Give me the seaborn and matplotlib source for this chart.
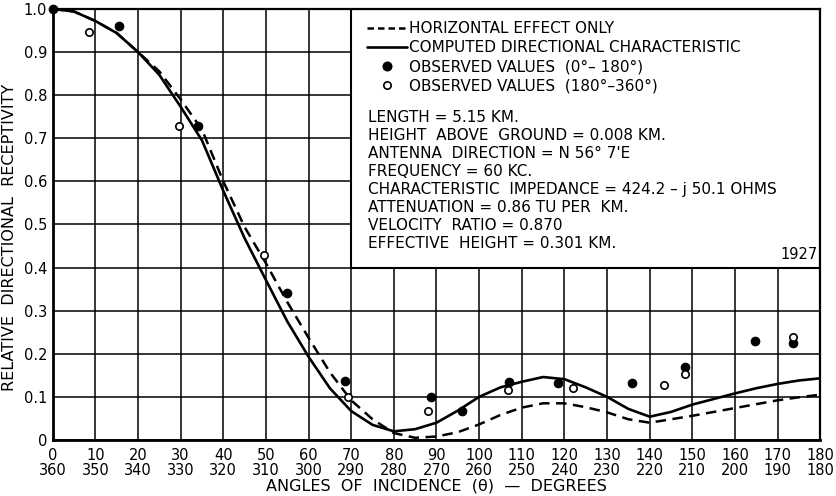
import numpy as np
import pandas as pd
import matplotlib
matplotlib.use("Agg")
import matplotlib.pyplot as plt
import seaborn as sns
from matplotlib.lines import Line2D
from matplotlib.patches import Rectangle

# ---- data ----
angle_deg = [0, 5, 10, 15, 20, 25, 30, 35, 40, 45, 50, 55, 60, 65, 70, 75, 80, 85, 90,
             95, 100, 105, 110, 115, 120, 125, 130, 135, 140, 145, 150, 155, 160, 165,
             170, 175, 180]
computed = [1.0, 0.994, 0.972, 0.944, 0.90, 0.847, 0.773, 0.695, 0.578, 0.468, 0.371,
            0.275, 0.193, 0.12, 0.067, 0.035, 0.02, 0.025, 0.04, 0.068, 0.1, 0.122,
            0.135, 0.146, 0.141, 0.122, 0.1, 0.072, 0.054, 0.065, 0.082, 0.095, 0.108,
            0.12, 0.13, 0.138, 0.143]
horizontal = [1.0, 0.994, 0.972, 0.944, 0.90, 0.855, 0.79, 0.72, 0.60, 0.494, 0.41,
              0.32, 0.237, 0.157, 0.092, 0.048, 0.016, 0.005, 0.008, 0.018, 0.036,
              0.058, 0.075, 0.085, 0.085, 0.076, 0.064, 0.048, 0.04, 0.048, 0.056,
              0.065, 0.074, 0.083, 0.092, 0.099, 0.105]

obs_0_180_angle = [0, 15.5, 34, 55, 68.5, 88.7, 96, 107, 118.5, 135.9, 148.3, 164.6, 173.7]
obs_0_180_value = [1.0, 0.96, 0.728, 0.341, 0.137, 0.1, 0.067, 0.135, 0.132, 0.132,
                   0.169, 0.23, 0.225]
obs_180_360_angle = [8.5, 29.6, 49.6, 69.2, 87.9, 106.7, 122, 143.3, 148.3, 173.6]
obs_180_360_value = [0.947, 0.729, 0.43, 0.1, 0.068, 0.116, 0.121, 0.127, 0.154, 0.24]

x_ticks = list(range(0, 181, 10))
x_tick_labels = [f"{a}\n{360 - a}" for a in x_ticks]
y_ticks = [0.0, 0.1, 0.2, 0.3, 0.4, 0.5, 0.6, 0.7, 0.8, 0.9, 1.0]
y_tick_labels = ["0", "0.1", "0.2", "0.3", "0.4", "0.5", "0.6", "0.7", "0.8", "0.9", "1.0"]

legend_labels = ["HORIZONTAL EFFECT ONLY",
                 "COMPUTED DIRECTIONAL CHARACTERISTIC",
                 "OBSERVED VALUES  (0°– 180°)",
                 "OBSERVED VALUES  (180°–360°)"]
params_text = ["LENGTH = 5.15 KM.",
               "HEIGHT  ABOVE  GROUND = 0.008 KM.",
               "ANTENNA  DIRECTION = N 56° 7'E",
               "FREQUENCY = 60 KC.",
               "CHARACTERISTIC  IMPEDANCE = 424.2 – j 50.1 OHMS",
               "ATTENUATION = 0.86 TU PER  KM.",
               "VELOCITY  RATIO = 0.870",
               "EFFECTIVE  HEIGHT = 0.301 KM."]

# ---- styling ----
sns.set_theme(style="white")
plt.rcParams["font.family"] = ["DejaVu Sans"]
plt.rcParams["text.color"] = "black"
plt.rcParams["axes.labelcolor"] = "black"
plt.rcParams["xtick.color"] = "black"
plt.rcParams["ytick.color"] = "black"

fig, ax = plt.subplots(figsize=(8.37, 4.96), dpi=100)
fig.subplots_adjust(left=0.063, right=0.98, top=0.982, bottom=0.113)

curves = pd.DataFrame({"angle": angle_deg, "computed": computed, "horizontal": horizontal})
obs_a = pd.DataFrame({"angle": obs_0_180_angle, "value": obs_0_180_value})
obs_b = pd.DataFrame({"angle": obs_180_360_angle, "value": obs_180_360_value})

dash = (0, (4.2, 2.6))
sns.lineplot(data=curves, x="angle", y="horizontal", ax=ax, color="black", lw=1.8,
             linestyle=dash, estimator=None, zorder=4)
sns.lineplot(data=curves, x="angle", y="computed", ax=ax, color="black", lw=1.9,
             estimator=None, zorder=4)
sns.scatterplot(data=obs_a, x="angle", y="value", ax=ax, color="black", s=38,
                edgecolor="black", linewidth=0.8, zorder=5, clip_on=False)
sns.scatterplot(data=obs_b, x="angle", y="value", ax=ax, color="white", s=28,
                edgecolor="black", linewidth=1.2, zorder=5, clip_on=False)

ax.set_xlim(0, 180)
ax.set_ylim(0, 1.0)
ax.set_xticks(x_ticks)
ax.set_xticklabels(x_tick_labels, fontsize=10.5, linespacing=1.0)
ax.set_yticks(y_ticks)
ax.set_yticklabels(y_tick_labels, fontsize=10.5)
ax.tick_params(axis="x", length=0, pad=6)
ax.tick_params(axis="y", length=0, pad=4)
ax.set_axisbelow(True)
ax.grid(True, color="black", lw=1.1)
for side in ["top", "right"]:
    ax.spines[side].set_color("black")
    ax.spines[side].set_linewidth(1.6)
for side in ["left", "bottom"]:
    ax.spines[side].set_color("black")
    ax.spines[side].set_linewidth(2.0)

ax.set_xlabel("ANGLES  OF  INCIDENCE  (θ)  —  DEGREES", fontsize=11.5, labelpad=0)
ax.set_ylabel("RELATIVE  DIRECTIONAL  RECEPTIVITY", fontsize=11.5, labelpad=3)
ax.yaxis.set_label_coords(-0.047, 0.47)

# white panel covering grid
ax.add_patch(Rectangle((70, 0.4), 110, 0.6, facecolor="white", edgecolor="black",
                       lw=1.5, zorder=2))

handles = [
    Line2D([], [], color="black", lw=1.8, linestyle=(0, (2.6, 1.6))),
    Line2D([], [], color="black", lw=1.9),
    Line2D([], [], color="black", marker="o", ms=6.2, ls="none"),
    Line2D([], [], color="black", marker="o", ms=5.3, ls="none", mfc="white", mew=1.2),
]
leg = ax.legend(handles, legend_labels, loc="upper left", bbox_to_anchor=(0.410, 0.972),
                frameon=False, fontsize=11, handlelength=2.6, handletextpad=0.15,
                labelspacing=0.28, borderpad=0, borderaxespad=0)
leg.set_zorder(6)

ax.text(0.411, 0.765, "\n".join(params_text), transform=ax.transAxes, fontsize=11,
        va="top", ha="left", linespacing=1.25, zorder=6)
ax.text(0.997, 0.412, "1927", transform=ax.transAxes, fontsize=10.5, ha="right",
        va="bottom", zorder=6)

fig.savefig("out.png", dpi=100)
